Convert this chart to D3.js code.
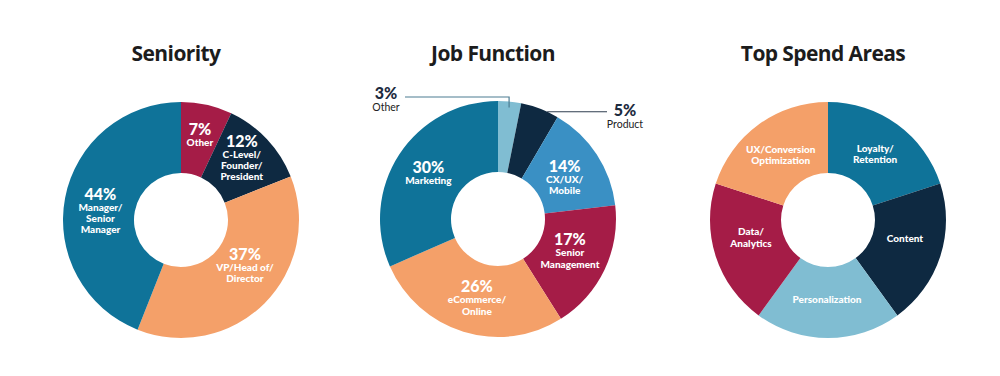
<!DOCTYPE html>
<html>
<head>
<meta charset="utf-8">
<script src="https://cdn.jsdelivr.net/npm/d3@7"></script>
<style>
  body { margin: 0; background: #fff; }
  svg { display: block; }
  .title { font-family: "Open Sans", sans-serif; font-weight: 700; font-size: 21px; fill: #1c1c1c; letter-spacing: -0.6px; }
  .pct { font-family: Lato, sans-serif; font-weight: 900; font-size: 16px; fill: #fff; }
  .name { font-family: Lato, sans-serif; font-weight: 900; font-size: 10px; fill: #fff; }
  .ext-pct { font-family: Lato, sans-serif; font-weight: 900; font-size: 16px; fill: #1d2b40; }
  .ext-name { font-family: Lato, sans-serif; font-weight: 400; font-size: 10.5px; fill: #222; }
</style>
</head>
<body>
<div id="chart"></div>
<script>
// chart data
var seniorityCategories = ["Other", "C-Level/\nFounder/\nPresident", "VP/Head of/\nDirector", "Manager/\nSenior\nManager"];
var seniorityValues = [7, 12, 37, 44];

var jobCategories = ["Other", "Product", "CX/UX/\nMobile", "Senior\nManagement", "eCommerce/\nOnline", "Marketing"];
var jobValues = [3, 5, 14, 17, 26, 30];

// no figures shown for spend areas, slices are equal
var spendCategories = ["Loyalty/\nRetention", "Content", "Personalization", "Data/\nAnalytics", "UX/Conversion\nOptimization"];
var spendValues = [1, 1, 1, 1, 1];

var teal = "#0f7399", navy = "#0e2941", crimson = "#a51c47",
    orange = "#f4a069", light = "#80bdd2", blue = "#3a90c4";

var svgWidth = 1000;
var svgHeight = 376;
var outerR = 118;
var innerR = 47;
var labelR = 82;

var svg = d3.select("#chart")
  .append("svg")
  .attr("width", svgWidth)
  .attr("height", svgHeight);

var pie = d3.pie().sort(null).value(d => d.value);
var arc = d3.arc().innerRadius(innerR).outerRadius(outerR);
var labelArc = d3.arc().innerRadius(labelR).outerRadius(labelR);

// one donut per panel
var panels = [
  { title: "Seniority", cx: 181, cy: 220, cats: seniorityCategories, vals: seniorityValues,
    colors: [crimson, navy, orange, teal], showPct: true,
    nudge: [[1, -5], [1, -17], [6, -18], [0, -5]] },
  { title: "Job Function", cx: 498, cy: 219, cats: jobCategories, vals: jobValues,
    colors: [light, navy, blue, crimson, orange, teal], showPct: true, outside: [0, 1],
    nudge: [[0, 0], [0, 0], [-2, -2], [-2, -9], [3, -5], [-1, -1]] },
  { title: "Top Spend Areas", cx: 828, cy: 220, cats: spendCategories, vals: spendValues,
    colors: [teal, navy, light, crimson, orange], showPct: false,
    nudge: [[-1, -2], [-1, -3], [-1, 1], [1, -10], [1, -1]] }
];

panels.forEach(function(p) {
  var g = svg.append("g")
    .attr("transform", `translate(${p.cx}, ${p.cy})`);

  svg.append("text")
    .attr("class", "title")
    .attr("x", p.cx - 5)
    .attr("y", 61)
    .attr("text-anchor", "middle")
    .text(p.title);

  var data = p.cats.map((c, i) => ({ name: c, value: p.vals[i] }));
  var arcs = pie(data);

  g.selectAll("path")
    .data(arcs)
    .enter()
    .append("path")
    .attr("d", arc)
    .attr("fill", (d, i) => p.colors[i]);

  var outside = p.outside || [];

  arcs.forEach(function(d, i) {
    if (outside.indexOf(i) >= 0) return;
    var c = labelArc.centroid(d);
    var x = c[0] + p.nudge[i][0];
    var y = c[1] + p.nudge[i][1];
    var lines = d.data.name.split("\n");
    var t = g.append("text").attr("text-anchor", "middle");
    var dy = 0;
    if (p.showPct) {
      t.append("tspan").attr("class", "pct").attr("x", x).attr("y", y)
        .text(d.data.value + "%");
      dy = 11;
    }
    lines.forEach(function(l, k) {
      t.append("tspan").attr("class", "name").attr("x", x)
        .attr("y", y + dy + k * 11.3)
        .text(l);
    });
  });

  // leader-line labels for the thin job function slices
  if (p.title === "Job Function") {
    var other = arcs[0];
    var mid = (other.startAngle + other.endAngle) / 2;
    var ox = 112 * Math.sin(mid), oy = -112 * Math.cos(mid);
    var elbowY = -122;
    g.append("path")
      .attr("d", `M${ox},${oy}V${elbowY}H${-93}`)
      .attr("fill", "none")
      .attr("stroke", "#4d7c92")
      .attr("stroke-width", 1.2);
    var t1 = g.append("text").attr("text-anchor", "middle");
    t1.append("tspan").attr("class", "ext-pct")
      .attr("x", -112).attr("y", elbowY + 2).text(other.data.value + "%");
    t1.append("tspan").attr("class", "ext-name")
      .attr("x", -112).attr("y", elbowY + 13.5).text(other.data.name);

    var prod = arcs[1];
    var a = prod.startAngle + 0.7 * (prod.endAngle - prod.startAngle);
    var px = outerR * Math.sin(a), py = -outerR * Math.cos(a);
    g.append("path")
      .attr("d", `M${px},${py}H${109}`)
      .attr("fill", "none")
      .attr("stroke", "#2f3e4f")
      .attr("stroke-width", 1.2);
    var t2 = g.append("text").attr("text-anchor", "middle");
    t2.append("tspan").attr("class", "ext-pct")
      .attr("x", 127).attr("y", py + 4.5).text(prod.data.value + "%");
    t2.append("tspan").attr("class", "ext-name")
      .attr("x", 127).attr("y", py + 16).text(prod.data.name);
  }
});
</script>
</body>
</html>
